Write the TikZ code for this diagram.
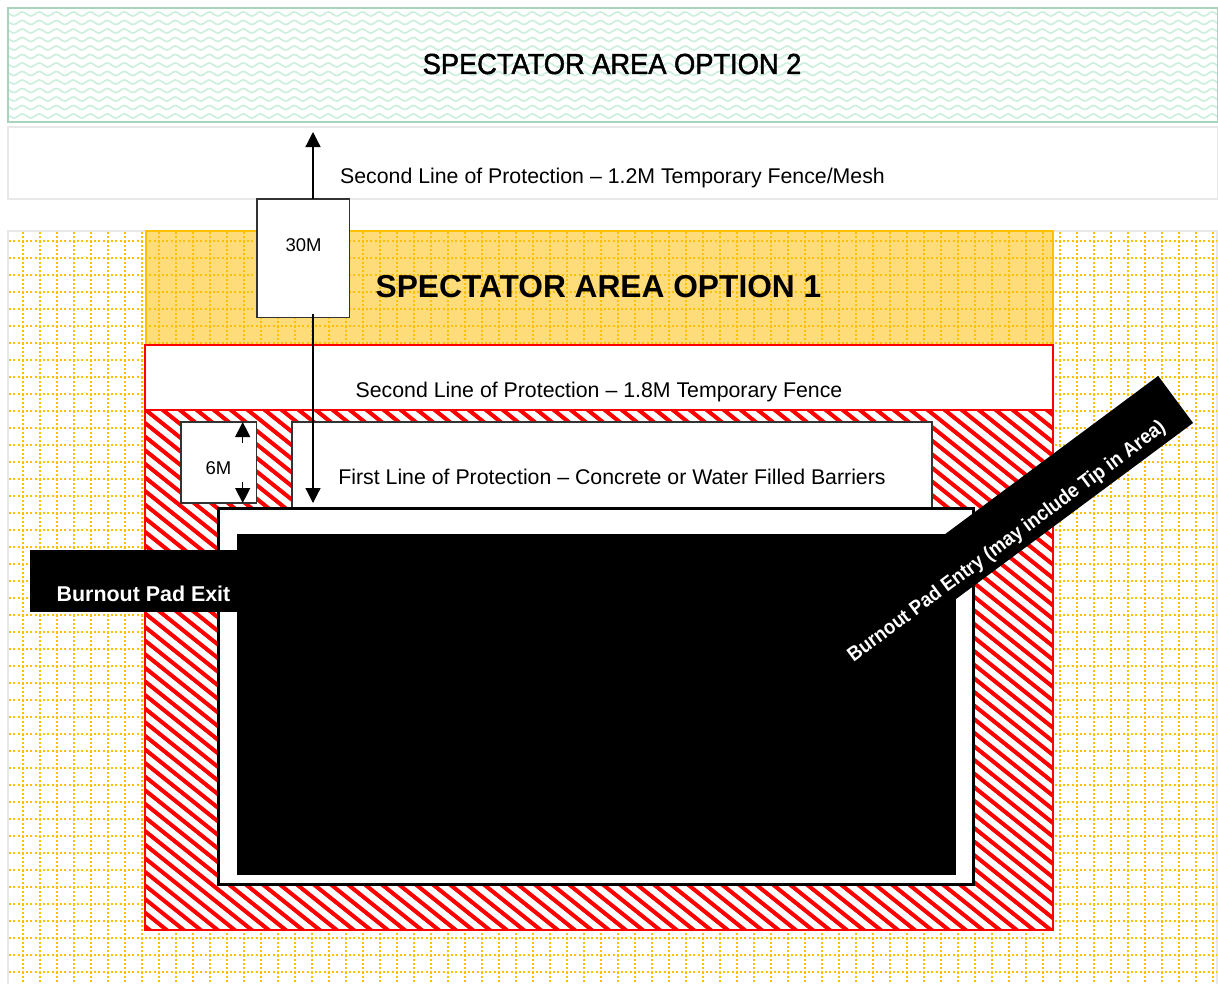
\documentclass[tikz,border=0pt]{standalone}
\usepackage{fontspec}
\setmainfont{Liberation Sans}
\newfontfamily\widefont[FakeStretch=0.94,FakeBold=1.6]{Liberation Sans}
\newfontfamily\narrowfont[FakeStretch=0.92]{Liberation Sans}
\usetikzlibrary{arrows.meta,decorations.pathmorphing}
\definecolor{gridgold}{HTML}{FFC000}
\definecolor{amberfill}{HTML}{FFDC7A}
\definecolor{waveline}{HTML}{CDEFDE}
\definecolor{waveedge}{HTML}{A9D4BC}
\definecolor{paleedge}{HTML}{E8E8E8}
\definecolor{dimedge}{HTML}{333333}
\begin{document}
\begin{tikzpicture}[x=1pt,y=-1pt]
	\tikzstyle{zone} = [draw, rectangle, anchor=north west, inner sep=0, outer sep=0, fill=white]
	\tikzstyle{dimbox} = [zone, draw=dimedge, line width=1.5pt]
	\tikzstyle{blackbar} = [zone, draw=none, fill=black]
	\tikzstyle{caption} = [inner sep=0, font={\fontsize{21.3}{25}\selectfont}]
	\tikzstyle{dimtext} = [inner sep=0, font={\fontsize{18.5}{22}\selectfont}]
	\tikzstyle{whitetext} = [inner sep=0, text=white, font={\fontsize{21.4}{25}\selectfont\bfseries}]
	\tikzstyle{dimarrow} = [line width=1.2pt, -{Triangle[length=15pt,width=15pt]}]
	\useasboundingbox (0,0) rectangle (1218,983);
	% spectator area 2 and its fence
	\node[zone, draw=waveedge, line width=1.5pt, minimum width=1210pt, minimum height=114pt] (area2) at (8,8) {};
	\begin{scope}
		\clip (8,8) rectangle (1218,122);
		\foreach \row in {0,...,13}
			\draw[waveline, line width=1.7pt, decorate, decoration={snake, segment length=17pt, amplitude=2pt}] (0,14+8.5*\row) -- (1230,14+8.5*\row);
	\end{scope}
	\draw[waveedge, line width=1.5pt] (area2.north west) rectangle (area2.south east);
	\node[font={\fontsize{29}{34}\selectfont\widefont}, inner sep=0] (area2text) at (612,64) {SPECTATOR AREA OPTION 2};
	\node[zone, draw=paleedge, line width=1.5pt, minimum width=1210pt, minimum height=72pt] (fence2) at (8,127) {};
	\node[caption] (fence2text) at (612.5,178) {Second Line of Protection – 1.2M Temporary Fence/Mesh};
	% grid ground and spectator area 1
	\node[zone, draw=paleedge, line width=1.5pt, minimum width=1209pt, minimum height=760pt] (ground) at (8,231) {};
	\node[zone, draw=gridgold, line width=2pt, fill=amberfill, minimum width=907.5pt, minimum height=114pt] (area1) at (145.5,231) {};
	\begin{scope}[gridgold, line width=2pt, dash pattern=on 2.1pt off 2.15pt]
		\clip (9,232) rectangle (1217,983);
		\foreach \row in {0,...,44}
			\draw (9,241+17*\row) -- (1217,241+17*\row);
		\foreach \col in {0,...,70}
			\draw (23+17*\col,232) -- (23+17*\col,983);
	\end{scope}
	\node[font={\fontsize{31.7}{37}\selectfont\bfseries}, inner sep=0] (area1text) at (598.5,287) {SPECTATOR AREA OPTION 1};
	% hatched zone
	\node[zone, draw=red, line width=1.2pt, minimum width=908pt, minimum height=520pt] (hatch) at (145,410) {};
	\begin{scope}
		\clip (145,410) rectangle (1053,930);
		\foreach \col in {-40,...,55}
			\draw[red, line width=4pt] (134.5+17*\col,401) -- (797+17*\col,931);
	\end{scope}
	\draw[red, line width=1.2pt] (hatch.north west) rectangle (hatch.south east);
	\node[zone, draw=red, line width=1.2pt, minimum width=908pt, minimum height=65pt] (fence1) at (145,345) {};
	\node[caption] (fence1text) at (599,392) {Second Line of Protection – 1.8M Temporary Fence};
	% barriers and measures
	\node[dimbox, minimum width=640pt, minimum height=90pt] (barrier) at (292,422) {};
	\node[caption] (barriertext) at (612,477) {First Line of Protection – Concrete or Water Filled Barriers};
	\node[dimbox, minimum width=75.5pt, minimum height=81pt] (box6m) at (181,422) {};
	\node[dimtext] (text6m) at (218.5,468) {6M};
	\node[dimbox, minimum width=92.5pt, minimum height=118.5pt] (box30m) at (257,199) {};
	\node[dimtext] (text30m) at (303.5,245) {30M};
	% burnout pad
	\node[zone, line width=3pt, minimum width=755pt, minimum height=376pt] (pad) at (218,508) {};
	\node[blackbar, minimum width=719pt, minimum height=341pt] (padcore) at (237,534) {};
	\node[blackbar, minimum width=207pt, minimum height=62pt] (exitbar) at (30,550) {};
	\node[whitetext] (exittext) at (143.5,594) {Burnout Pad Exit};
	\node[blackbar, anchor=center, rotate=36.6, minimum width=440pt, minimum height=58.6pt] (entrybar) at (999,530.6) {};
	\node[whitetext, rotate=36.6, font={\fontsize{20.2}{24}\selectfont\narrowfont\bfseries}] (entrytext) at (1007,542) {Burnout Pad Entry (may include Tip in Area)};
	% dimension arrows
	\coordinate (up30) at (313,132);
	\coordinate (from30) at (313,314);
	\coordinate (down30) at (313,503);
	\coordinate (up6) at (242.7,443);
	\coordinate (down6) at (242.7,482);
	\draw[dimarrow] (box30m.north -| up30) -- (up30);
	\draw[dimarrow] (from30) -- (down30);
	\draw[dimarrow] (up6) -- (box6m.north -| up6);
	\draw[dimarrow] (down6) -- (box6m.south -| down6);
\end{tikzpicture}
\end{document}
